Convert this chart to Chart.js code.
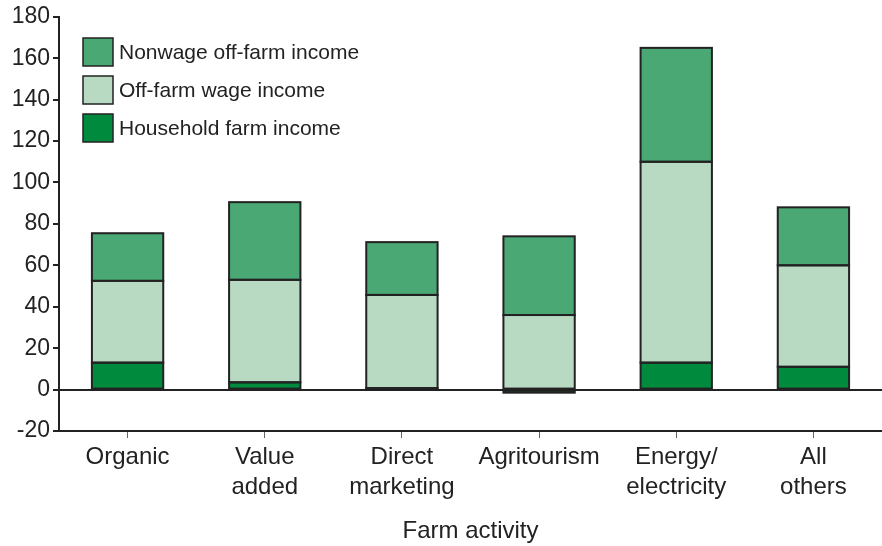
<!DOCTYPE html>
<html>
<head>
<meta charset="utf-8">
<script src="https://cdn.jsdelivr.net/npm/chart.js@4.4.1/dist/chart.umd.min.js"></script>
<style>
  html, body { margin: 0; padding: 0; background: #fff; }
  #wrap { width: 882px; height: 546px; }
</style>
</head>
<body>
<div id="wrap"><canvas id="farmChart"></canvas></div>
<script>
let categories = [
    ["Organic"],
    ["Value", "added"],
    ["Direct", "marketing"],
    ["Agritourism"],
    ["Energy/", "electricity"],
    ["All", "others"]
];

let householdIncome = [13, 3.5, 0.7, -1.5, 13, 11];
let wageIncome      = [39.5, 49.5, 45, 36, 97, 49];
let nonwageIncome   = [23, 37.5, 25.5, 38, 55, 28];

let yTicks = [-20, 0, 20, 40, 60, 80, 100, 120, 140, 160, 180];

let seriesNames = ["Household farm income", "Off-farm wage income", "Nonwage off-farm income"];
let seriesColors = ["#008a3e", "#b8dac3", "#4aa874"];

const ink = "#222222";
const font = "'Liberation Sans', Arial, sans-serif";

// legend drawn inside the plot, top-left, nonwage first
const boxLegend = {
    id: "boxLegend",
    afterDraw(chart) {
        const ctx = chart.ctx;
        const x = 83, y0 = 38, step = 38;
        ctx.save();
        for (let i = 0; i < 3; i++) {
            const k = 2 - i;
            const y = y0 + i * step;
            ctx.fillStyle = seriesColors[k];
            ctx.fillRect(x, y, 30, 28);
            ctx.strokeStyle = ink;
            ctx.lineWidth = 1.5;
            ctx.strokeRect(x, y, 30, 28);
            ctx.fillStyle = ink;
            ctx.font = "21px " + font;
            ctx.textBaseline = "middle";
            ctx.fillText(seriesNames[k], x + 36, y + 15);
        }
        ctx.restore();
    }
};

// outline each segment with a centred stroke so stacked pieces share one line
const barOutline = {
    id: "barOutline",
    afterDatasetsDraw(chart) {
        const ctx = chart.ctx;
        ctx.save();
        ctx.strokeStyle = ink;
        ctx.lineWidth = 2;
        chart.data.datasets.forEach((ds, i) => {
            chart.getDatasetMeta(i).data.forEach(bar => {
                const p = bar.getProps(["x", "y", "base", "width"], true);
                ctx.strokeRect(p.x - p.width / 2, Math.min(p.y, p.base), p.width, Math.abs(p.base - p.y));
            });
        });
        ctx.restore();
    }
};

Chart.defaults.font.family = font;
Chart.defaults.color = ink;

new Chart(document.getElementById("farmChart"), {
    type: "bar",
    data: {
        labels: categories,
        datasets: [householdIncome, wageIncome, nonwageIncome].map((values, i) => ({
            label: seriesNames[i],
            data: values,
            backgroundColor: seriesColors[i],
            borderWidth: 0,
            barPercentage: 0.52,
            categoryPercentage: 1
        }))
    },
    options: {
        responsive: true,
        maintainAspectRatio: false,
        animation: false,
        layout: { padding: { top: 16, right: 0, left: 0, bottom: 0 } },
        plugins: {
            legend: { display: false },
            tooltip: { enabled: false }
        },
        scales: {
            x: {
                stacked: true,
                afterFit(scale) { scale.height = 115; },
                border: { color: ink, width: 2 },
                grid: {
                    offset: false,
                    drawOnChartArea: false,
                    tickLength: 7,
                    tickColor: "#666"
                },
                ticks: {
                    font: { size: 24, lineHeight: 1.25 },
                    padding: 4,
                    maxRotation: 0
                },
                title: {
                    display: true,
                    text: "Farm activity",
                    font: { size: 24 },
                    padding: { top: 12, bottom: 0 }
                }
            },
            y: {
                stacked: true,
                min: -20,
                max: 180,
                afterFit(scale) { scale.width = 59; },
                afterBuildTicks(scale) {
                    scale.ticks = yTicks.map(v => ({ value: v }));
                },
                border: { color: ink, width: 2 },
                grid: {
                    drawOnChartArea: true,
                    color: c => c.tick && c.tick.value === 0 ? ink : "transparent",
                    lineWidth: 2,
                    tickColor: ink,
                    tickLength: 6
                },
                ticks: {
                    font: { size: 23 },
                    padding: 3
                }
            }
        }
    },
    plugins: [barOutline, boxLegend]
});
</script>
</body>
</html>
